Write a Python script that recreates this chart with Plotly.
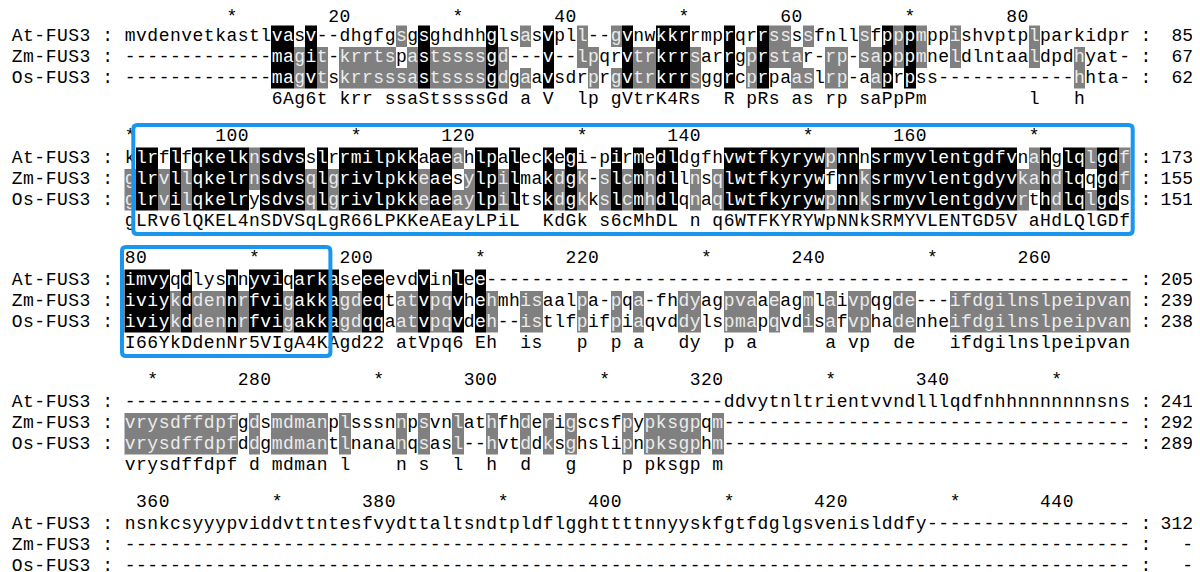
import plotly.graph_objects as go

# aligned sequences, one string per display block (89 alignment columns each)
NAMES = ["At-FUS3", "Zm-FUS3", "Os-FUS3"]

AT_FUS3 = [
    "mvdenvetkastlvasv--dhgfgsgsghdhhglsasvpll--gvnwkkrrmprqrrssssfnllsfpppmppishvptplparkidpr",
    "klrflfqkelknsdvsslrrmilpkkaaeahlpaleckegi-pirmedldgfhvwtfkyrywpnnnsrmyvlentgdfvnahglqlgdf",
    "imvyqdlysnnyviqarkaseeeevdvinlee" + "-" * 57,
    "-" * 53 + "ddvytnltrientvvndlllqdfnhhnnnnnnnsns",
    "nsnkcsyyypviddvttntesfvydttaltsndtpldflgghttttnnyyskfgtfdglgsvenislddfy" + "-" * 18,
]
ZM_FUS3 = [
    "-------------magit-krrtspastssssgd---v--lpqrvtrkrrsarrgprstar-rp-sapppmneldlntaaldpdhyat-",
    "glrvllqkelrnsdvsqlgrivlpkkeaesylpilmakdgk-slcmhdllnsqlwtfkyrywfnnksrmyvlentgdyvkahdlqqgdf",
    "iviykddennrfvigakkagdeqtatvpqvhehmhisaalpa-pqa-fhdyagpvaaeagmlaivpqgde---ifdgilnslpeipvan",
    "vrysdffdpfgdsmdmanplsssnnpsvnlathfhderigscsfpypksgpqm" + "-" * 36,
    "-" * 89,
]
OS_FUS3 = [
    "-------------magvtskrrsssastssssgdgaavsdrprgvtrkrrsggrcprpaaslrp-aaprpss------------hhta-",
    "glrvilqkelrysdvsqlgrivlpkkeaeaylpiltskdgkkslcmhdlqnaqlwtfkyrywpnnksrmyvlentgdyvrthdlqlgds",
    "iviykddennrfvigakkagdqqaatvpqvdeh--istlfpifpiaqvddylspmapqvdisafvphadenheifdgilnslpeipvan",
    "vrysdffdpfddgmdmantlnananqsasl--hvtddksghslipnpksgphm" + "-" * 36,
    "-" * 89,
]
CONSENSUS = [
    "             6Ag6t krr ssaStssssGd a V  lp gVtrK4Rs  R pRs as rp saPpPm         l   h    ",
    "gLRv6lQKEL4nSDVSqLgR66LPKKeAEayLPiL  KdGk s6cMhDL n q6WTFKYRYWpNNkSRMYVLENTGD5V aHdLQlGDf",
    "I66YkDdenNr5VIgA4KAgd22 atVpq6 Eh  is   p  p a   dy  p a      a vp  de   ifdgilnslpeipvan",
    "vrysdffdpf d mdman l    n s  l  h  d   g    p pksgp m                                    ",
    "                                                                                         ",
]
END_AT = ["85", "173", "205", "241", "312"]
END_ZM = ["67", "155", "239", "292", "-"]
END_OS = ["62", "151", "238", "289", "-"]

BLOCK_START = [1, 90, 179, 268, 357]
DOMAIN = (91, 196)  # boxed region, alignment columns

SIM_GROUPS = ["dn", "eq", "st", "kr", "fyw", "livm"]

# page pixels; the html body keeps an 8px margin, so the plot starts at (8, 8)
PAGE_OFF = 8
CHAR_W = 11.3
X0 = 11.5
BLOCK_Y = [14, 136, 258, 380, 502]
RULER_Y = [17, 136, 258, 380, 502]
ROW_DY = [22, 43, 64]
CONS_DY = 85
FONT = "Courier New, Liberation Mono, monospace"
FS = 18
GRAY = "#808080"
BLUE = "#1b96ee"


def cx(idx):
    return X0 + idx * CHAR_W + CHAR_W / 2


def grp(ch):
    for g in SIM_GROUPS:
        if ch in g:
            return g
    return ch


def shade(column):
    res = [c for c in column if c != "-"]
    if len(res) == 3 and len(set(grp(c) for c in res)) == 1:
        return [2, 2, 2]
    out = []
    for i, c in enumerate(column):
        if c == "-":
            out.append(0)
            continue
        others = [o for j, o in enumerate(column) if j != i and o != "-"]
        if any(o == c or grp(o) == grp(c) for o in others):
            out.append(1)
        else:
            out.append(0)
    return out


fig = go.Figure()

xs, ys, txt, col = [], [], [], []


def put(idx, y, ch, color="black"):
    if ch == " ":
        return
    xs.append(cx(idx))
    ys.append(y)
    txt.append(ch)
    col.append(color)


seqs = [AT_FUS3, ZM_FUS3, OS_FUS3]
ends = [END_AT, END_ZM, END_OS]
num_x, num_y, num_t = [], [], []
colon_x, colon_y = [], []

for b, start in enumerate(BLOCK_START):
    y0 = BLOCK_Y[b]
    ncol = len(CONSENSUS[b])
    stop = start + ncol - 1

    # ruler line
    for a in range(start, stop + 1):
        if a % 20 == 10:
            put(9 + a - start + 1, RULER_Y[b], "*")
        if a % 20 == 0:
            s = str(a)
            for k, ch in enumerate(s):
                pos = a - len(s) + 1 + k
                if start <= pos <= stop:
                    put(9 + pos - start + 1, RULER_Y[b], ch)

    # shading
    z = [[None] * ncol for _ in range(3)]
    levels = []
    for c in range(ncol):
        lv = shade([seqs[r][b][c] for r in range(3)])
        levels.append(lv)
        for r in range(3):
            if lv[r]:
                z[r][c] = lv[r]
    fig.add_trace(go.Heatmap(
        x=[cx(10 + c) for c in range(ncol)],
        y=[y0 + d for d in ROW_DY],
        z=z, zmin=1, zmax=2, showscale=False, hoverinfo="skip",
        colorscale=[[0, GRAY], [0.5, GRAY], [0.5, "black"], [1, "black"]],
    ))

    for r in range(3):
        y = y0 + ROW_DY[r]
        label = NAMES[r] + " :"
        for k, ch in enumerate(label):
            put(k, y, ch)
        for c in range(ncol):
            lv = levels[c][r]
            color = "white" if lv == 2 else ("#ececec" if lv == 1 else "black")
            put(10 + c, y, seqs[r][b][c], color)
        colon_x.append(1146)
        colon_y.append(y)
        num_x.append(1193)
        num_y.append(y)
        num_t.append(ends[r][b])

    for c, ch in enumerate(CONSENSUS[b]):
        put(10 + c, y0 + CONS_DY, ch)

    # domain box
    lo, hi = max(DOMAIN[0], start), min(DOMAIN[1], stop)
    if lo <= hi:
        xl = X0 + (10 + lo - start) * CHAR_W - 2.5
        xr = X0 + (10 + hi - start + 1) * CHAR_W + 2.5
        yt, yb = y0 - 11, y0 + CONS_DY + 13
        rr = 4
        path = (f"M {xl + rr},{yt} L {xr - rr},{yt} Q {xr},{yt} {xr},{yt + rr} "
                f"L {xr},{yb - rr} Q {xr},{yb} {xr - rr},{yb} L {xl + rr},{yb} "
                f"Q {xl},{yb} {xl},{yb - rr} L {xl},{yt + rr} Q {xl},{yt} {xl + rr},{yt} Z")
        fig.add_shape(type="path", path=path, xref="x", yref="y",
                      line=dict(color=BLUE, width=4))

fig.add_trace(go.Scatter(
    x=xs, y=ys, text=txt, mode="text", textposition="middle center",
    textfont=dict(family=FONT, size=FS, color=col), hoverinfo="skip", showlegend=False,
    cliponaxis=False,
))
fig.add_trace(go.Scatter(
    x=colon_x, y=colon_y, text=[":"] * len(colon_x), mode="text",
    textposition="middle center", textfont=dict(family=FONT, size=FS, color="black"),
    hoverinfo="skip", showlegend=False, cliponaxis=False,
))
fig.add_trace(go.Scatter(
    x=num_x, y=num_y, text=num_t, mode="text", textposition="middle left",
    textfont=dict(family=FONT, size=FS, color="black"), hoverinfo="skip", showlegend=False,
    cliponaxis=False,
))

fig.update_xaxes(range=[PAGE_OFF, 1200], visible=False, fixedrange=True)
fig.update_yaxes(range=[572, PAGE_OFF], visible=False, fixedrange=True)
fig.update_layout(
    width=1200 - PAGE_OFF, height=572 - PAGE_OFF, margin=dict(l=0, r=0, t=0, b=0),
    plot_bgcolor="white", paper_bgcolor="white", showlegend=False,
)

fig.write_html("out.html")
